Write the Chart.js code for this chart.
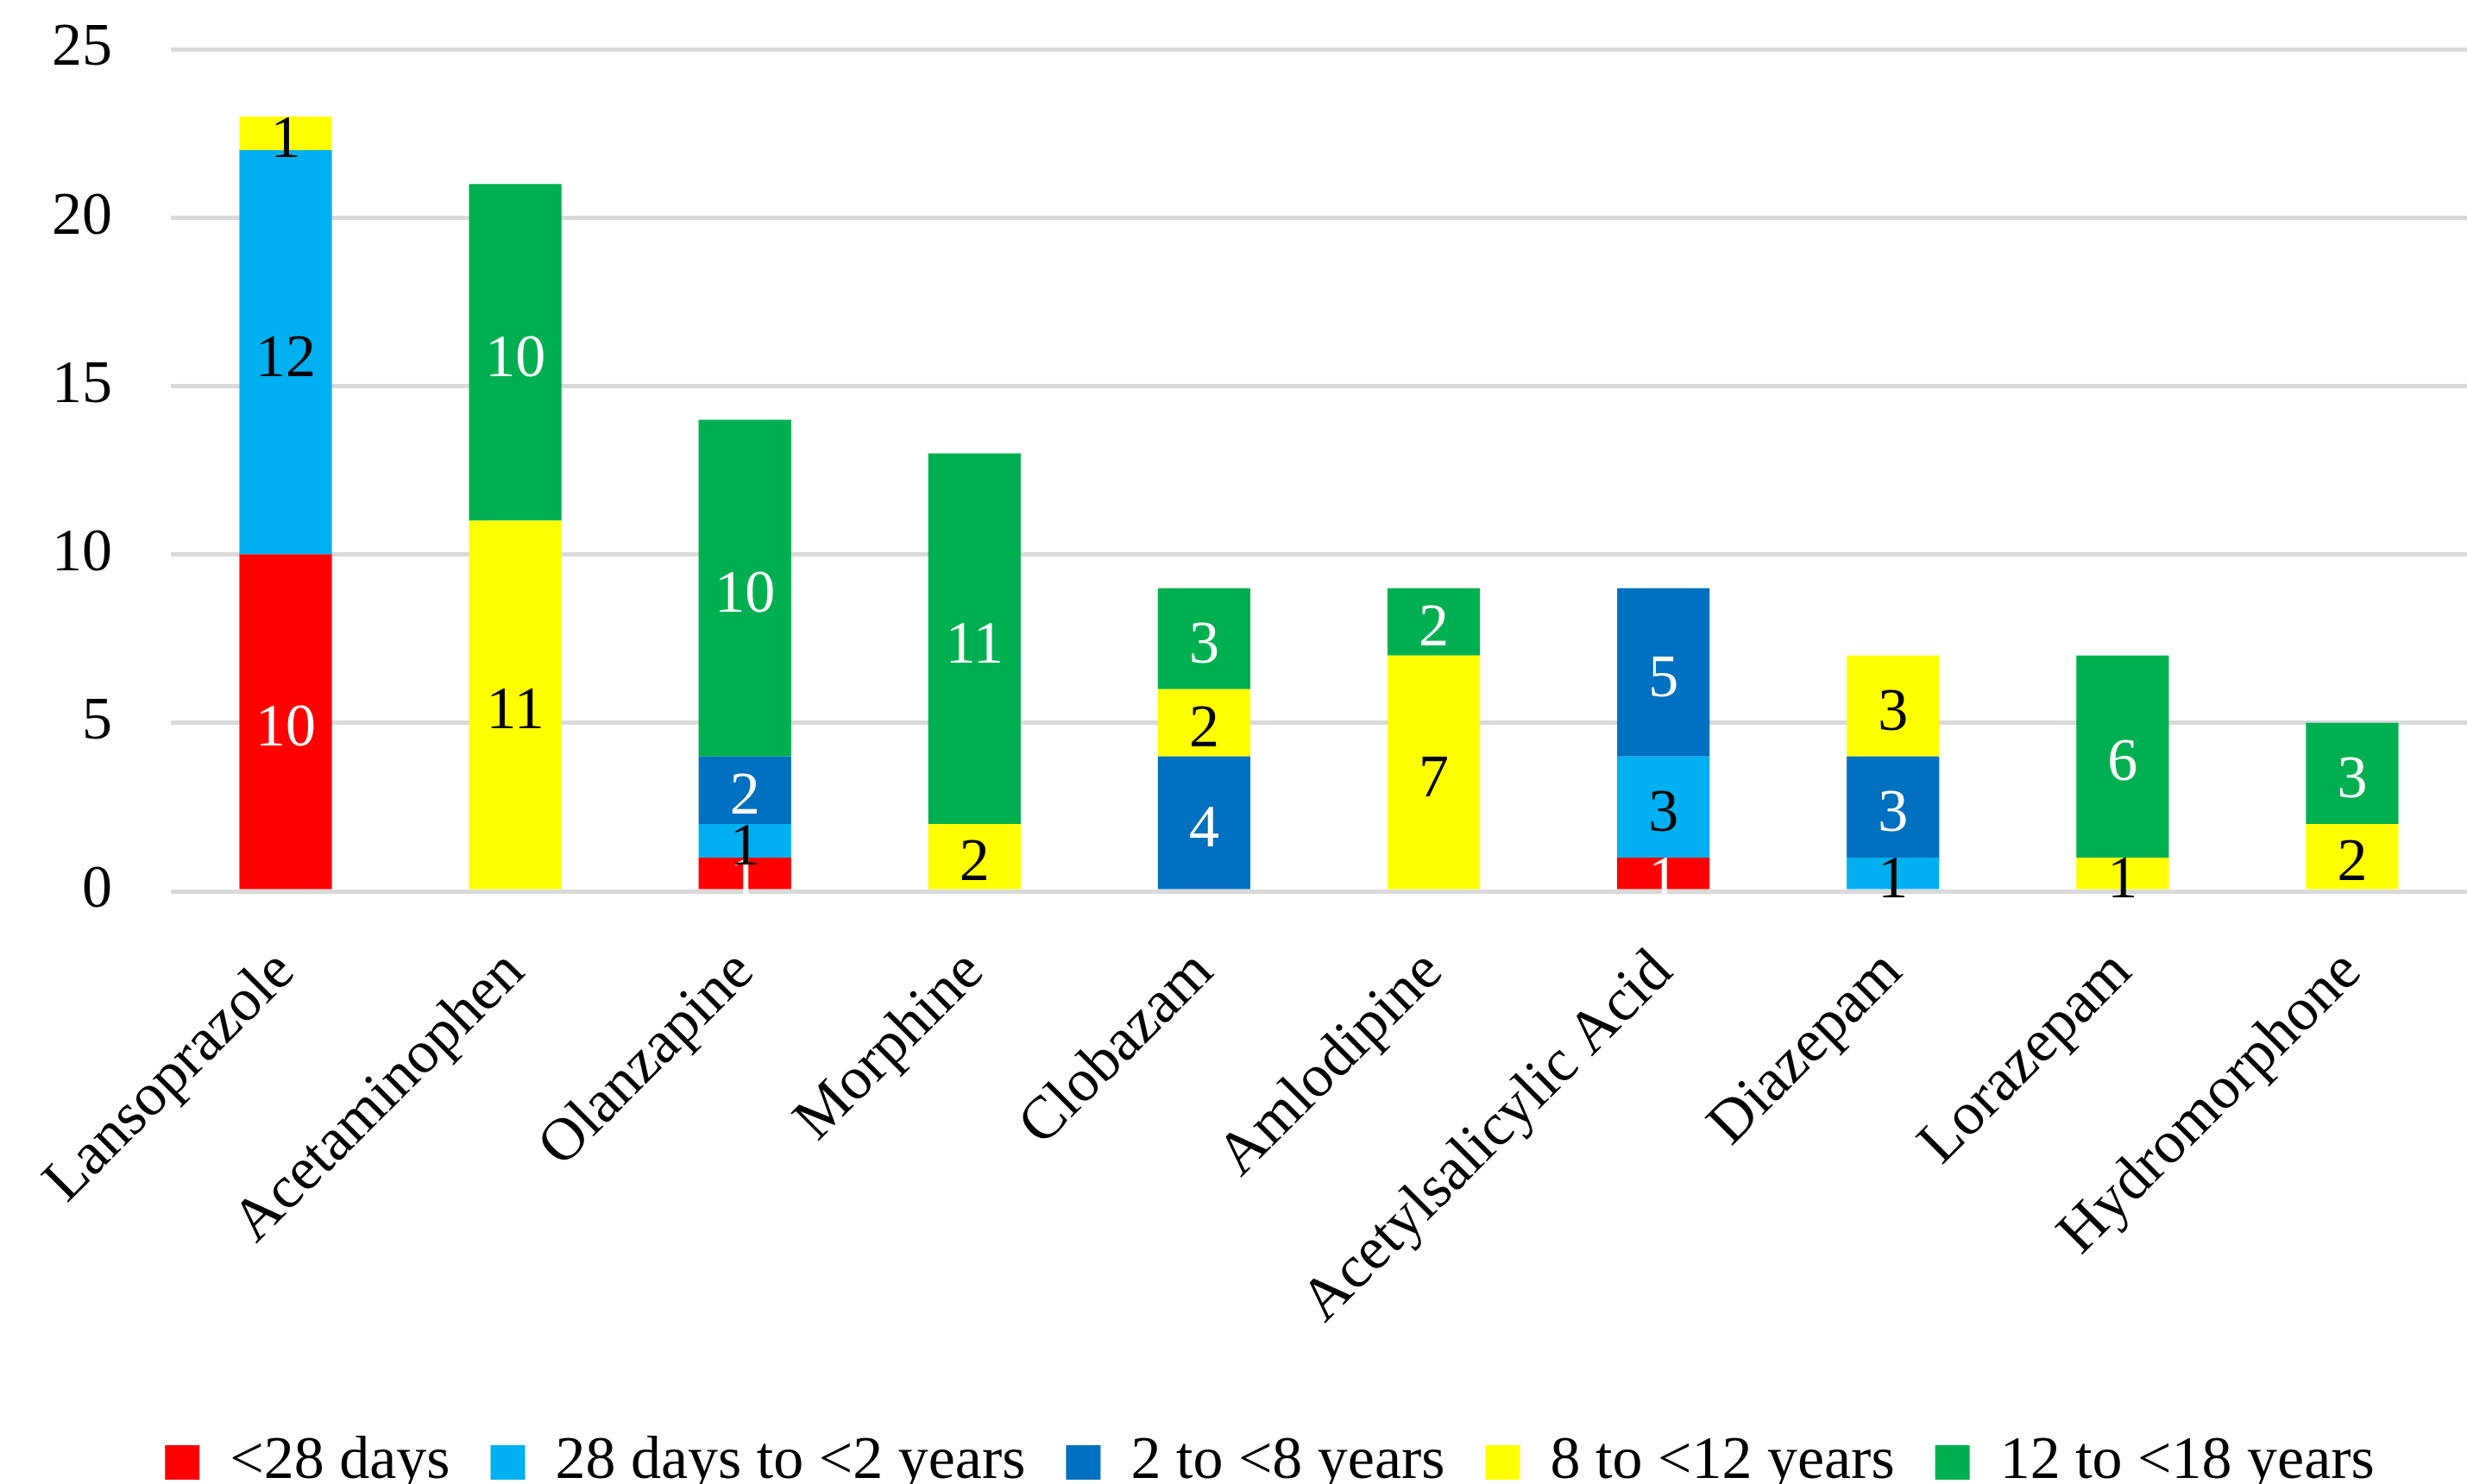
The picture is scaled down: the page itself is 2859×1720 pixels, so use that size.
<!DOCTYPE html>
<html>
<head>
<meta charset="utf-8">
<script src="https://cdn.jsdelivr.net/npm/chart.js@4.4.1/dist/chart.umd.min.js"></script>
<style>
  html, body { margin: 0; padding: 0; background: #fff; }
  #wrap { width: 2859px; height: 1720px; position: relative; }
</style>
</head>
<body>
<div id="wrap"><canvas id="drugChart"></canvas></div>
<script>
// categories (drugs) and one array per age group
const drugs = ['Lansoprazole', 'Acetaminophen', 'Olanzapine', 'Morphine', 'Clobazam',
  'Amlodipine', 'Acetylsalicylic Acid', 'Diazepam', 'Lorazepam', 'Hydromorphone'];
const ageGroups = ['<28 days', '28 days to <2 years', '2 to <8 years', '8 to <12 years', '12 to <18 years'];
const under28Days    = [10, null, 1, null, null, null, 1, null, null, null];
const days28To2Years = [12, null, 1, null, null, null, 3, 1, null, null];
const years2To8      = [null, null, 2, null, 4, null, 5, 3, null, null];
const years8To12     = [1, 11, null, 2, 2, 7, null, 3, 1, 2];
const years12To18    = [null, 10, 10, 11, 3, 2, null, null, 6, 3];
const yMin = 0, yMax = 25, yStep = 5;

(function(){
  'use strict';

  const FONT = 'Liberation Serif';
  const colors = ['#FF0000', '#00B0F0', '#0070C0', '#FFFF00', '#00B050'];
  const labelColors = ['#FFFFFF', '#000000', '#FFFFFF', '#000000', '#FFFFFF'];
  const series = [under28Days, days28To2Years, years2To8, years8To12, years12To18];

  // valeurs au centre de chaque segment
  const segmentLabels = {
    id: 'segmentLabels',
    afterDatasetsDraw(chart){
      const ctx = chart.ctx;
      ctx.save();
      ctx.font = '70px "' + FONT + '"';
      ctx.textAlign = 'center';
      ctx.textBaseline = 'middle';
      chart.data.datasets.forEach((ds, i) => {
        const meta = chart.getDatasetMeta(i);
        if (meta.hidden) return;
        meta.data.forEach((bar, j) => {
          const v = ds.data[j];
          if (!v) return;
          const p = bar.getProps(['x', 'y', 'base'], true);
          ctx.fillStyle = ds.labelColor;
          ctx.fillText(String(v), p.x, (p.y + p.base) / 2 + 9);
        });
      });
      ctx.restore();
    }
  };

  // la légende est un peu décalée vers la droite dans l'original
  const legendShift = {
    id: 'legendShift',
    afterLayout(chart){ if (chart.legend) chart.legend.left += 84; }
  };

  const el = document.getElementById('drugChart');
  const chart = new Chart(el.getContext('2d'), {
    type: 'bar',
    data: {
      labels: drugs,
      datasets: series.map((d, i) => ({
        label: ageGroups[i],
        data: d,
        backgroundColor: colors[i],
        labelColor: labelColors[i],
        borderWidth: 0,
        barPercentage: 0.403,
        categoryPercentage: 1
      }))
    },
    options: {
      responsive: true,
      maintainAspectRatio: false,
      animation: false,
      devicePixelRatio: 1,
      layout: { padding: { top: 57, left: 0, right: 0, bottom: -20 } },
      plugins: {
        legend: {
          position: 'bottom',
          labels: {
            boxWidth: 40,
            boxHeight: 40,
            padding: 47,
            color: '#000',
            font: { family: FONT, size: 70 }
          }
        },
        tooltip: { enabled: false }
      },
      scales: {
        x: {
          stacked: true,
          grid: { display: false },
          border: { display: false },
          ticks: {
            color: '#000',
            font: { family: FONT, size: 70 },
            minRotation: 45,
            maxRotation: 45,
            autoSkip: false,
            padding: 45
          },
          afterFit(scale){ scale.height = 580; }
        },
        y: {
          stacked: true,
          min: yMin,
          max: yMax,
          grid: { color: '#D9D9D9', lineWidth: 5, drawTicks: false },
          border: { display: false },
          ticks: {
            stepSize: yStep,
            color: '#000',
            padding: 68,
            font: { family: FONT, size: 70 }
          },
          afterFit(scale){
            scale.width = 198;
            scale.paddingTop = 0;
            scale.paddingBottom = 0;
          }
        }
      }
    },
    plugins: [segmentLabels, legendShift]
  });
  el.__chartInstance = chart;
})();
</script>
</body>
</html>
